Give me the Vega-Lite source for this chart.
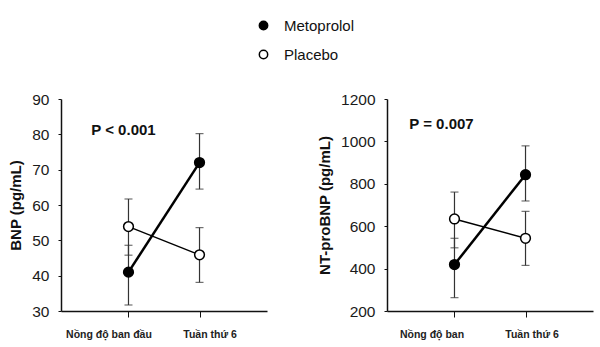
{
  "$schema": "https://vega.github.io/schema/vega-lite/v6.json",
  "background": "white",
  "padding": {"left": 8, "top": 18, "right": 5, "bottom": 5},
  "config": {
    "view": {"stroke": null},
    "font": "Liberation Sans",
    "axis": {"grid": false, "domainColor": "#111", "domainWidth": 1.5, "tickColor": "#111", "labelColor": "#1a1a1a", "titleColor": "#111", "labelOverlap": false},
    "legend": {"padding": 0}
  },
  "data": {"values": [
    {"panel": "BNP", "group": "Metoprolol", "time": "Nồng độ ban đầu", "value": 41.0, "lo": 31.7, "hi": 48.6},
    {"panel": "BNP", "group": "Metoprolol", "time": "Tuần thứ 6", "value": 72.0, "lo": 64.5, "hi": 80.2},
    {"panel": "BNP", "group": "Placebo", "time": "Nồng độ ban đầu", "value": 53.9, "lo": 45.8, "hi": 61.7},
    {"panel": "BNP", "group": "Placebo", "time": "Tuần thứ 6", "value": 45.9, "lo": 38.1, "hi": 53.6},
    {"panel": "NT", "group": "Metoprolol", "time": "Nồng độ ban", "value": 419, "lo": 263, "hi": 543},
    {"panel": "NT", "group": "Metoprolol", "time": "Tuần thứ 6", "value": 843, "lo": 719, "hi": 979},
    {"panel": "NT", "group": "Placebo", "time": "Nồng độ ban", "value": 634, "lo": 498, "hi": 761},
    {"panel": "NT", "group": "Placebo", "time": "Tuần thứ 6", "value": 543, "lo": 415, "hi": 670}
  ]},
  "spacing": 50,
  "hconcat": [
    {
      "width": 206,
      "height": 212,
      "transform": [{"filter": "datum.panel == 'BNP'"}],
      "encoding": {
        "x": {"field": "time", "type": "nominal", "sort": ["Nồng độ ban đầu", "Tuần thứ 6"],
          "scale": {"type": "point", "padding": 0.95},
          "axis": {"title": null, "labelAngle": 0, "labelFontWeight": "bold", "labelFontSize": 10.5, "labelPadding": 12, "tickSize": 6, "labelColor": "#222",
            "labelOffset": {"condition": {"test": "datum.value === 'Tuần thứ 6'", "value": 10}, "value": -20}}}
      },
      "layer": [
        {
          "transform": [{"filter": "datum.group == 'Metoprolol'"}],
          "mark": {"type": "line", "color": "black", "strokeWidth": 2.5},
          "encoding": {
            "y": {"field": "value", "type": "quantitative", "title": "BNP (pg/mL)",
              "scale": {"domain": [30, 90], "nice": false, "zero": false},
              "axis": {"values": [30, 40, 50, 60, 70, 80, 90], "tickCount": 7, "tickSize": 3, "labelFontSize": 15.5, "labelPadding": 9, "titleFontSize": 15, "titleFontWeight": "bold", "titlePadding": 8}}
          }
        },
        {
          "transform": [{"filter": "datum.group == 'Placebo'"}],
          "mark": {"type": "line", "color": "black", "strokeWidth": 1.4},
          "encoding": {
            "y": {"field": "value", "type": "quantitative", "title": "BNP (pg/mL)"}
          }
        },
        {
          "mark": {"type": "errorbar", "ticks": {"size": 8}, "color": "#333", "thickness": 1.2},
          "encoding": {
            "y": {"field": "lo", "type": "quantitative", "title": "BNP (pg/mL)"},
            "y2": {"field": "hi"}
          }
        },
        {
          "mark": {"type": "circle", "stroke": "black", "strokeWidth": 1.5, "size": 95, "opacity": 1},
          "encoding": {
            "y": {"field": "value", "type": "quantitative", "title": "BNP (pg/mL)"},
            "fill": {"field": "group", "type": "nominal", "scale": {"domain": ["Metoprolol", "Placebo"], "range": ["black", "white"]},
              "legend": {"title": null, "orient": "none", "legendX": 195, "legendY": -81, "labelFontSize": 15, "labelColor": "#111", "labelOffset": 13, "rowPadding": 13, "symbolSize": 70, "symbolType": "circle", "symbolStrokeColor": "black", "symbolStrokeWidth": 1.5}}
          }
        },
        {
          "data": {"values": [{"label": "P < 0.001", "time": "Nồng độ ban đầu", "ty": 81.3}]},
          "mark": {"type": "text", "fontSize": 15, "fontWeight": "bold", "align": "center", "baseline": "middle", "dx": -5, "color": "#111"},
          "encoding": {
            "y": {"field": "ty", "type": "quantitative", "title": "BNP (pg/mL)"},
            "text": {"field": "label"}
          }
        }
      ]
    },
    {
      "width": 206,
      "height": 212,
      "transform": [{"filter": "datum.panel == 'NT'"}],
      "encoding": {
        "x": {"field": "time", "type": "nominal", "sort": ["Nồng độ ban", "Tuần thứ 6"],
          "scale": {"type": "point", "padding": 0.95},
          "axis": {"title": null, "labelAngle": 0, "labelFontWeight": "bold", "labelFontSize": 10.5, "labelPadding": 12, "tickSize": 6, "labelColor": "#222",
            "labelOffset": {"condition": {"test": "datum.value === 'Tuần thứ 6'", "value": 6}, "value": -23}}}
      },
      "layer": [
        {
          "transform": [{"filter": "datum.group == 'Metoprolol'"}],
          "mark": {"type": "line", "color": "black", "strokeWidth": 2.5},
          "encoding": {
            "y": {"field": "value", "type": "quantitative", "title": "NT-proBNP (pg/mL)",
              "scale": {"domain": [200, 1200], "nice": false, "zero": false},
              "axis": {"values": [200, 400, 600, 800, 1000, 1200], "tickCount": 6, "format": "d", "tickSize": 3, "labelFontSize": 15.5, "labelPadding": 9, "titleFontSize": 15, "titleFontWeight": "bold", "titlePadding": 8}}
          }
        },
        {
          "transform": [{"filter": "datum.group == 'Placebo'"}],
          "mark": {"type": "line", "color": "black", "strokeWidth": 1.4},
          "encoding": {
            "y": {"field": "value", "type": "quantitative", "title": "NT-proBNP (pg/mL)"}
          }
        },
        {
          "mark": {"type": "errorbar", "ticks": {"size": 8}, "color": "#333", "thickness": 1.2},
          "encoding": {
            "y": {"field": "lo", "type": "quantitative", "title": "NT-proBNP (pg/mL)"},
            "y2": {"field": "hi"}
          }
        },
        {
          "mark": {"type": "circle", "stroke": "black", "strokeWidth": 1.5, "size": 95, "opacity": 1},
          "encoding": {
            "y": {"field": "value", "type": "quantitative", "title": "NT-proBNP (pg/mL)"},
            "fill": {"field": "group", "type": "nominal", "scale": {"domain": ["Metoprolol", "Placebo"], "range": ["black", "white"]},
              "legend": {"title": null, "orient": "none", "legendX": 195, "legendY": -81, "labelFontSize": 15, "labelColor": "#111", "labelOffset": 13, "rowPadding": 13, "symbolSize": 70, "symbolType": "circle", "symbolStrokeColor": "black", "symbolStrokeWidth": 1.5}}
          }
        },
        {
          "data": {"values": [{"label": "P = 0.007", "time": "Nồng độ ban", "ty": 1082}]},
          "mark": {"type": "text", "fontSize": 15, "fontWeight": "bold", "align": "center", "baseline": "middle", "dx": -13, "color": "#111"},
          "encoding": {
            "y": {"field": "ty", "type": "quantitative", "title": "NT-proBNP (pg/mL)"},
            "text": {"field": "label"}
          }
        }
      ]
    }
  ]
}
